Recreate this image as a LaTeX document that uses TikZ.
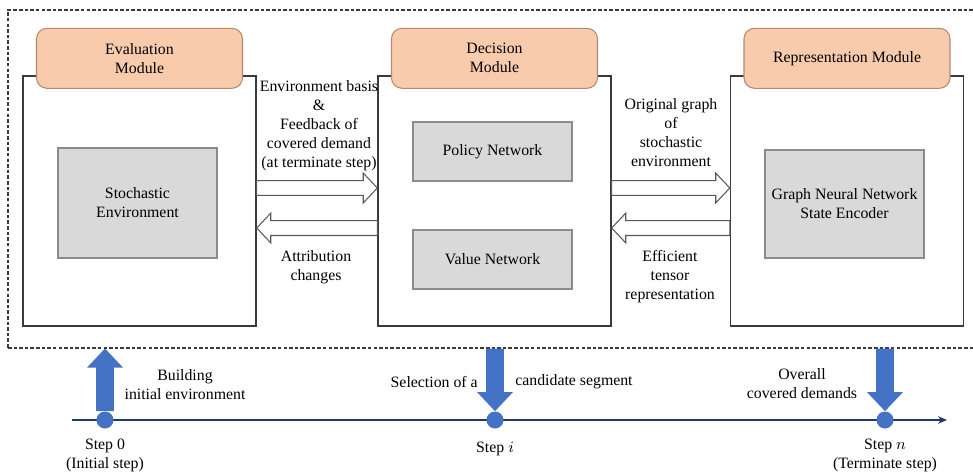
\documentclass[tikz,border=0pt]{standalone}
\usepackage{fontspec}
\setmainfont{Liberation Serif}
\usetikzlibrary{arrows.meta, positioning, calc}
\definecolor{hdrfill}{HTML}{F8CBAD}
\definecolor{hdrline}{HTML}{B48A70}
\definecolor{netfill}{HTML}{D9D9D9}
\definecolor{netline}{HTML}{8C8C8C}
\definecolor{boxline}{HTML}{3A3A3A}
\definecolor{cgrey}{HTML}{595959}
\definecolor{stepblue}{HTML}{4472C4}
\definecolor{axisblue}{HTML}{1F3864}
\tikzset{
  every picture/.style={font=\fontsize{9}{10.8}\selectfont},
  module/.style={draw=boxline, fill=white, line width=0.8pt, minimum width=46.6mm, minimum height=50mm, inner sep=0},
  header/.style={draw=hdrline, fill=hdrfill, rounded corners=6pt, line width=0.6pt, minimum width=41.2mm, minimum height=12mm, align=center},
  net/.style={draw=netline, fill=netfill, line width=0.6pt, minimum width=31.8mm, align=center},
  note/.style={align=center, inner sep=0},
  hollow/.style={draw=cgrey, fill=white, line width=0.6pt},
  stepfill/.style={fill=stepblue},
  stepdot/.style={circle, fill=stepblue, minimum size=3.4mm, inner sep=0},
  timeline/.style={draw=axisblue, line width=1.1pt, -{Stealth[length=1.8mm, width=1.5mm]}},
  dashframe/.style={draw=boxline, dash pattern=on 2pt off 1.2pt, line width=0.6pt, inner sep=0},
}
% block arrow: style, shaft half width, head half width, head length, from, to
\newcommand{\blockarrow}[6]{%
  \path[#1] let \p1=(#5), \p2=(#6),
    \n1={sign(\x2-\x1)}, \n2={sign(\y2-\y1)},
    \p3=({\x2-(\n1)*#4},{\y2-(\n2)*#4}) in
    ({\x1-(\n2)*#2},{\y1+(\n1)*#2}) -- ({\x3-(\n2)*#2},{\y3+(\n1)*#2})
    -- ({\x3-(\n2)*#3},{\y3+(\n1)*#3}) -- (\p2)
    -- ({\x3+(\n2)*#3},{\y3-(\n1)*#3}) -- ({\x3+(\n2)*#2},{\y3-(\n1)*#2})
    -- ({\x1+(\n2)*#2},{\y1-(\n1)*#2}) -- cycle;}

\begin{document}
\begin{tikzpicture}[x=0.2mm, y=-0.2mm]
  \clip (0,0) rectangle (973,474);
  % dashed frame round the three modules
  \node[dashframe, minimum width=195.4mm, minimum height=67.6mm] (frame) at (496.5,179) {};

  % modules
  \node[module] (ev) at (139.5,201) {};
  \node[module] (dec) at (494.5,201) {};
  \node[module] (rep) at (847,201) {};
  \node[header] (evh) at ([yshift=3.4mm]ev.north) {Evaluation\\Module};
  \node[header] (dech) at ([yshift=3.4mm]dec.north) {Decision\\Module};
  \node[header] (reph) at ([yshift=3.4mm]rep.north) {Representation Module};
  \node[net, minimum height=22mm] (env) at (137.5,203) {Stochastic\\Environment};
  \node[net, minimum height=11.8mm] (pol) at (492.5,151.5) {Policy Network};
  \node[net, minimum height=11.8mm] (val) at (492.5,259.5) {Value Network};
  \node[net, minimum height=21.6mm] (gnn) at (844.5,204) {Graph Neural Network\\State Encoder};

  % exchanges between modules
  \blockarrow{hollow}{4.25pt}{8.5pt}{8pt}{$(ev.east)+(0,-13)$}{$(dec.west)+(0,-13)$}
  \blockarrow{hollow}{4.25pt}{8.5pt}{8pt}{$(dec.west)+(0,27)$}{$(ev.east)+(0,27)$}
  \blockarrow{hollow}{4.25pt}{8.5pt}{8pt}{$(dec.east)+(0,-13)$}{$(rep.west)+(0,-13)$}
  \blockarrow{hollow}{4.25pt}{8.5pt}{8pt}{$(rep.west)+(0,27)$}{$(dec.east)+(0,27)$}
  \node[note] (basis) at (319,126) {Environment basis\\\&\\Feedback of\\covered demand\\(at terminate step)};
  \node[note] (attr) at (316,267) {Attribution\\changes};
  \node[note] (orig) at (671,133) {Original graph\\of\\stochastic\\environment};
  \node[note] (tens) at (670,277) {Efficient\\tensor\\representation};

  % time line
  \coordinate (t0) at (72,420);
  \coordinate (t1) at (947,420);
  \draw[timeline] (t0) -- (t1);
  \node[stepdot] (s0) at (105,420) {};
  \node[stepdot] (si) at (495,420) {};
  \node[stepdot] (sn) at (885,420) {};
  \blockarrow{stepfill}{5pt}{10.2pt}{10.8pt}{s0.north}{s0 |- frame.south}
  \blockarrow{stepfill}{5pt}{10.2pt}{10.8pt}{si |- frame.south}{si.north}
  \blockarrow{stepfill}{5pt}{10.2pt}{10.8pt}{sn |- frame.south}{sn.north}
  \node[note] (build) at (185,385) {Building\\initial environment};
  \node[note, anchor=east] (sel) at (478,382) {Selection of a};
  \node[note, anchor=west] (cand) at (515,382) {candidate segment};
  \node[note] (overall) at (802,384) {Overall\\covered demands};
  \node[note, below=2mm of s0] (lab0) {Step 0\\(Initial step)};
  \node[note, below=2.6mm of si] (labi) {Step $i$};
  \node[note, below=2mm of sn] (labn) {Step $n$\\(Terminate step)};
\end{tikzpicture}
\end{document}
